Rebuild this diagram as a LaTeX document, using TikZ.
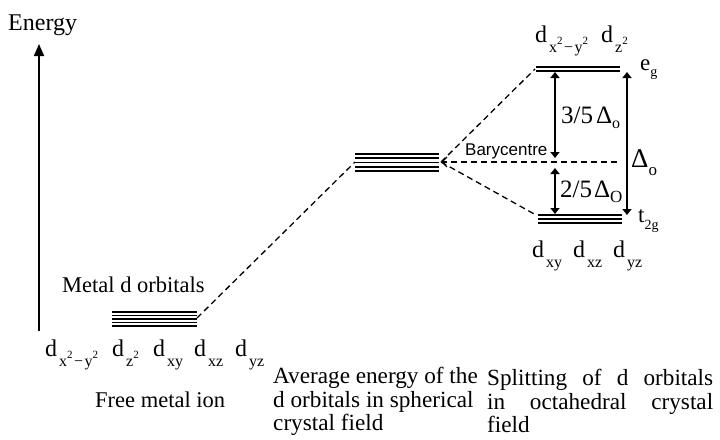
\documentclass[tikz,border=0pt]{standalone}
\usepackage{fontspec}
\setmainfont{Liberation Serif}
\newfontfamily\arialf{Liberation Sans}
\usetikzlibrary{arrows.meta}
\newcommand\fs[1]{\fontsize{#1}{#1}\selectfont}
\newcommand\dsub[1]{{\fs{24}d}\kern2pt\raisebox{-10.5pt}{\fs{16}#1}}
\newcommand\sq{\raisebox{8pt}{\fs{11}2}}
\newcommand\mn{\kern1.5pt−\kern1.5pt}
\hyphenpenalty=10000
\begin{document}
\begin{tikzpicture}[x=1pt,y=-1pt,
  lvl/.style={line width=1.8pt},
  conn/.style={dashed, dash pattern=on 6pt off 4pt, line width=1.3pt},
  gap/.style={line width=1.5pt, {Triangle[width=9pt,length=6pt]}-{Triangle[width=9pt,length=6pt]}},
  lab/.style={anchor=base west, inner sep=0pt},
  captxt/.style={anchor=north west, inner sep=0pt, font=\fontsize{23.2}{23.5}\selectfont}]
\useasboundingbox (0,0) rectangle (720,439);
% energy axis
\node[lab, font=\fs{24}] (energy) at (8,30) {Energy};
\coordinate (axB) at (39,331);
\coordinate (axT) at (39,44);
\draw[line width=1.8pt, -{Triangle[width=10pt,length=12pt]}] (axB) -- (axT);
% free ion stack
\foreach \y in {312,315.5,319,322.5,326} \draw[lvl] (112,\y) -- (197,\y);
\coordinate (freeR) at (197,318);
\node[lab, font=\fs{22.5}] (metal) at (62,292) {Metal d orbitals};
\node[lab] (f1) at (45,356) {\dsub{x\sq\mn y\sq}};
\node[lab] (f2) at (112,356) {\dsub{z\sq}};
\node[lab] (f3) at (153,356) {\dsub{xy}};
\node[lab] (f4) at (194,356) {\dsub{xz}};
\node[lab] (f5) at (235,356) {\dsub{yz}};
\node[lab, font=\fs{22.5}] (freeion) at (95,407) {Free metal ion};
% spherical field stack
\foreach \y in {154,158.2,162.4,166.6,170.8} \draw[lvl] (355,\y) -- (439,\y);
\coordinate (midL) at (355,162);
\coordinate (midR) at (441,162);
\node[captxt, align=left] (cap1) at (273,367) {Average energy of the\\d orbitals in spherical\\crystal field};
% octahedral splitting
\draw[line width=2pt] (536,67) -- (620,67);
\draw[line width=1.3pt] (536,71) -- (620,71);
\coordinate (egL) at (535,69);
\foreach \y in {215,219,223} \draw[line width=1.6pt] (538,\y) -- (622,\y);
\coordinate (tL) at (536,215);
\coordinate (baryR) at (617,162);
\draw[conn] (freeR) -- (midL);
\draw[conn] (midR) -- (egL);
\draw[conn] (midR) -- (tL);
\draw[conn, -{Straight Barb[length=5pt,width=10pt]}] (baryR) -- (midR);
\node[lab, font=\arialf\fs{17}] (bary) at (465,155) {Barycentre};
\coordinate (a1t) at (555,72);
\coordinate (a1b) at (555,158);
\coordinate (a2t) at (555,168);
\coordinate (a2b) at (555,214);
\coordinate (a3t) at (627,72);
\coordinate (a3b) at (627,215);
\draw[gap] (a1t) -- (a1b);
\draw[gap] (a2t) -- (a2b);
\draw[gap] (a3t) -- (a3b);
\node[lab, font=\fs{25}] (d35) at (561,123) {3/5\kern3pt Δ\raisebox{-5pt}{\fs{16}o}};
\node[lab, font=\fs{25}] (d25) at (560,197) {2/5\kern2pt Δ\raisebox{-5pt}{\fs{17}O}};
\node[lab, font=\fs{27}] (dO) at (631,167) {Δ\raisebox{-8pt}{\fs{17}o}};
\node[lab, font=\fs{23}] (eg) at (640,70) {e\raisebox{-6pt}{\fs{14}g}};
\node[lab, font=\fs{23}] (t2g) at (638,222) {t\raisebox{-7pt}{\fs{14}2g}};
\node[lab] (u1) at (535,42) {\dsub{x\sq\mn y\sq}};
\node[lab] (u2) at (601,42) {\dsub{z\sq}};
\node[lab] (l1) at (532,257) {\dsub{xy}};
\node[lab] (l2) at (573,257) {\dsub{xz}};
\node[lab] (l3) at (613,257) {\dsub{yz}};
\node[captxt, text width=226pt, align=justify] (cap2) at (487,369) {Splitting of d orbitals\linebreak in octahedral crystal\linebreak field};
\end{tikzpicture}
\end{document}
